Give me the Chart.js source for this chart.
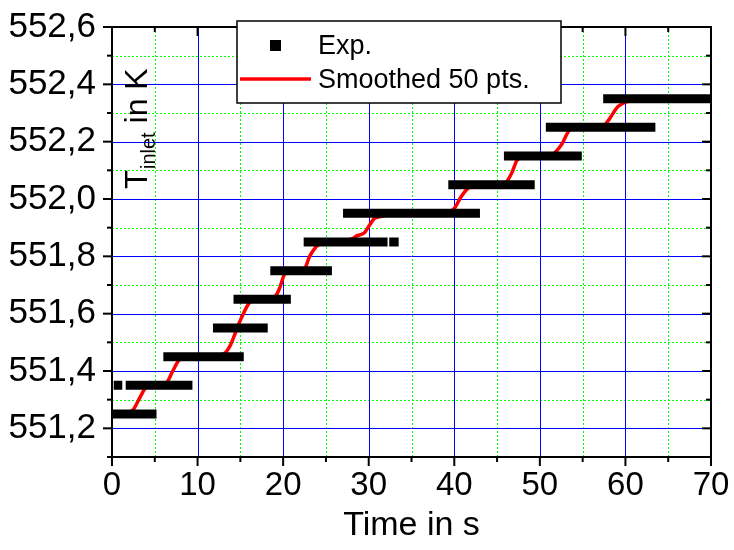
<!DOCTYPE html>
<html>
<head>
<meta charset="utf-8">
<script src="https://cdn.jsdelivr.net/npm/chart.js@4/dist/chart.umd.min.js"></script>
<style>
  html, body { margin: 0; padding: 0; background: #fff; }
  #wrap { width: 734px; height: 550px; position: relative; }
</style>
</head>
<body>
<div id="wrap"><canvas id="chart" width="734" height="550"></canvas></div>
<script>
// ===== DATA =====
// Exp. readings: quantised levels, each held over a time range
const expLevels = [551.25, 551.35, 551.35, 551.45, 551.55, 551.65, 551.75, 551.85, 551.85, 551.95, 552.05, 552.15, 552.25, 552.35];
const expStart  = [0.0,    0.2,    1.6,    6.0,    11.8,   14.2,   18.5,   22.4,   32.4,   27.0,   39.3,   45.8,   50.7,   57.4];
const expEnd    = [5.2,    1.2,    9.4,    15.4,   18.2,   20.9,   25.7,   32.2,   33.5,   43.0,   49.4,   54.9,   63.5,   70.0];

// Smoothed 50 pts.
const smoothTime = [0, 1.5, 2.45, 3.3, 4.0, 4.8, 6.35, 7.1, 7.8, 8.4,
  9.1, 12.9, 13.75, 14.9, 16.1, 17.0, 18.4, 19.2, 19.6, 20.2,
  20.95, 22.5, 23.1, 24.1, 25.05, 28.15, 28.55, 29.5, 30.1, 30.7,
  31.7, 32.4, 39.2, 40.0, 40.8, 41.6, 42.6, 45.9, 46.7, 47.4,
  48.4, 51.5, 52.5, 53.5, 54.6, 57.4, 58.1, 59.1, 60.1, 62.0,
  63.2, 65.15, 70];
const smoothTemp = [551.25, 551.25, 551.264, 551.31, 551.345, 551.355, 551.36, 551.40, 551.437, 551.448,
  551.452, 551.458, 551.485, 551.57, 551.64, 551.65, 551.655, 551.665, 551.69, 551.74,
  551.75, 551.758, 551.80, 551.84, 551.848, 551.863, 551.871, 551.882, 551.909, 551.933,
  551.94, 551.952, 551.953, 551.967, 552.008, 552.037, 552.049, 552.055, 552.09, 552.138,
  552.147, 552.157, 552.188, 552.241, 552.249, 552.255, 552.278, 552.322, 552.339, 552.345,
  552.347, 552.353, 552.353];

const xTicks = [0, 10, 20, 30, 40, 50, 60, 70];
const xMinor = [5, 15, 25, 35, 45, 55, 65];
const yTicks = [551.2, 551.4, 551.6, 551.8, 552.0, 552.2, 552.4, 552.6];
const yMinor = [551.1, 551.3, 551.5, 551.7, 551.9, 552.1, 552.3, 552.5];

// ===== BUILD DATASETS =====
const expPoints = [];
expLevels.forEach((lv, i) => {
  expPoints.push({ x: expStart[i], y: lv });
  expPoints.push({ x: expEnd[i], y: lv });
  expPoints.push({ x: expEnd[i], y: null }); // break between bars
});
const smoothPoints = smoothTime.map((t, i) => ({ x: t, y: smoothTemp[i] }));

const FONT = 'Liberation Sans, Arial, sans-serif';

// grid, frame, ticks, axis label and legend drawn inside the plot
const framePlugin = {
  id: 'frame',
  beforeDatasetsDraw(chart) {
    const { ctx, chartArea: a, scales: { x, y } } = chart;
    ctx.save();
    ctx.lineWidth = 1;
    // minor grid, green dotted
    ctx.strokeStyle = '#00ff00';
    ctx.setLineDash([2, 2]);
    xMinor.forEach(v => {
      const px = Math.round(x.getPixelForValue(v)) + 0.5;
      ctx.beginPath(); ctx.moveTo(px, a.top); ctx.lineTo(px, a.bottom); ctx.stroke();
    });
    yMinor.forEach(v => {
      const py = Math.round(y.getPixelForValue(v)) + 0.5;
      ctx.beginPath(); ctx.moveTo(a.left, py); ctx.lineTo(a.right, py); ctx.stroke();
    });
    // major grid, blue solid
    ctx.setLineDash([]);
    ctx.strokeStyle = '#0000ff';
    xTicks.forEach(v => {
      const px = Math.round(x.getPixelForValue(v)) + 0.5;
      ctx.beginPath(); ctx.moveTo(px, a.top); ctx.lineTo(px, a.bottom); ctx.stroke();
    });
    yTicks.forEach(v => {
      const py = Math.round(y.getPixelForValue(v)) + 0.5;
      ctx.beginPath(); ctx.moveTo(a.left, py); ctx.lineTo(a.right, py); ctx.stroke();
    });
    ctx.restore();
  },
  afterDatasetsDraw(chart) {
    const { ctx, chartArea: a, scales: { x, y } } = chart;
    ctx.save();
    ctx.strokeStyle = '#000';
    ctx.lineWidth = 2;
    ctx.strokeRect(a.left, a.top, a.right - a.left, a.bottom - a.top);

    // tick marks: out on left/bottom, in on top/right
    const tick = (vals, len) => {
      vals.forEach(v => {
        const px = x.getPixelForValue(v);
        ctx.beginPath(); ctx.moveTo(px, a.bottom); ctx.lineTo(px, a.bottom + len); ctx.stroke();
        ctx.beginPath(); ctx.moveTo(px, a.top); ctx.lineTo(px, a.top + len); ctx.stroke();
      });
    };
    const ytick = (vals, len) => {
      vals.forEach(v => {
        const py = y.getPixelForValue(v);
        ctx.beginPath(); ctx.moveTo(a.left, py); ctx.lineTo(a.left - len, py); ctx.stroke();
        ctx.beginPath(); ctx.moveTo(a.right, py); ctx.lineTo(a.right - len, py); ctx.stroke();
      });
    };
    tick(xTicks, 9); tick(xMinor, 5);
    ytick(yTicks, 9); ytick(yMinor, 5);

    // rotated y label inside the plot: T_inlet in K
    ctx.fillStyle = '#000';
    ctx.translate(147, 189);
    ctx.rotate(-Math.PI / 2);
    ctx.textBaseline = 'alphabetic';
    ctx.font = '31px ' + FONT;
    ctx.fillText('T', 0, 0);
    let w = ctx.measureText('T').width;
    ctx.font = '20px ' + FONT;
    ctx.fillText('inlet', w + 1, 8);
    w += ctx.measureText('inlet').width + 1;
    ctx.font = '32px ' + FONT;
    ctx.fillText(' in K', w, 0);
    ctx.restore();

    // legend box
    ctx.save();
    ctx.fillStyle = '#fff';
    ctx.fillRect(237, 21, 324, 82);
    ctx.strokeStyle = '#000';
    ctx.lineWidth = 1.5;
    ctx.strokeRect(237, 21, 324, 82);
    ctx.fillStyle = '#000';
    ctx.fillRect(270, 40, 11, 11);
    ctx.strokeStyle = '#ff0000';
    ctx.lineWidth = 3.5;
    ctx.beginPath(); ctx.moveTo(240, 79); ctx.lineTo(311, 79); ctx.stroke();
    ctx.fillStyle = '#000';
    ctx.font = '27px ' + FONT;
    ctx.textBaseline = 'alphabetic';
    ctx.fillText('Exp.', 318, 54);
    ctx.fillText('Smoothed 50 pts.', 318, 88);
    ctx.restore();
  }
};

new Chart(document.getElementById('chart'), {
  type: 'line',
  data: {
    datasets: [{
      label: 'Exp.',
      data: expPoints,
      borderColor: '#000',
      borderWidth: 9,
      borderCapStyle: 'butt',
      pointRadius: 0,
      spanGaps: false,
      tension: 0,
    }, {
      label: 'Smoothed 50 pts.',
      data: smoothPoints,
      borderColor: '#ff0000',
      borderWidth: 3.5,
      pointRadius: 0,
      cubicInterpolationMode: 'monotone',
    }]
  },
  options: {
    responsive: false,
    animation: false,
    events: [],
    layout: { autoPadding: false, padding: { left: 0, top: 27, right: 23, bottom: 0 } },
    plugins: { legend: { display: false }, tooltip: { enabled: false } },
    scales: {
      x: {
        type: 'linear',
        min: 0, max: 70,
        afterBuildTicks: s => { s.ticks = xTicks.map(v => ({ value: v })); },
        afterFit: s => { s.height = 93; s.paddingLeft = 0; s.paddingRight = 0; },
        grid: { display: false, drawTicks: false },
        border: { display: false },
        ticks: { color: '#000', font: { family: FONT, size: 33 }, padding: 9, maxRotation: 0 },
        title: { display: true, text: 'Time in s', color: '#000', font: { family: FONT, size: 34 }, padding: { top: 9 } }
      },
      y: {
        type: 'linear',
        min: 551.1, max: 552.6,
        afterBuildTicks: s => { s.ticks = yTicks.map(v => ({ value: v })); },
        afterFit: s => { s.width = 112; s.paddingTop = 0; s.paddingBottom = 0; },
        grid: { display: false, drawTicks: false },
        border: { display: false },
        ticks: {
          color: '#000',
          font: { family: FONT, size: 35 },
          padding: 16,
          callback: v => v.toFixed(1).replace('.', ',')
        }
      }
    }
  },
  plugins: [framePlugin]
});
</script>
</body>
</html>
